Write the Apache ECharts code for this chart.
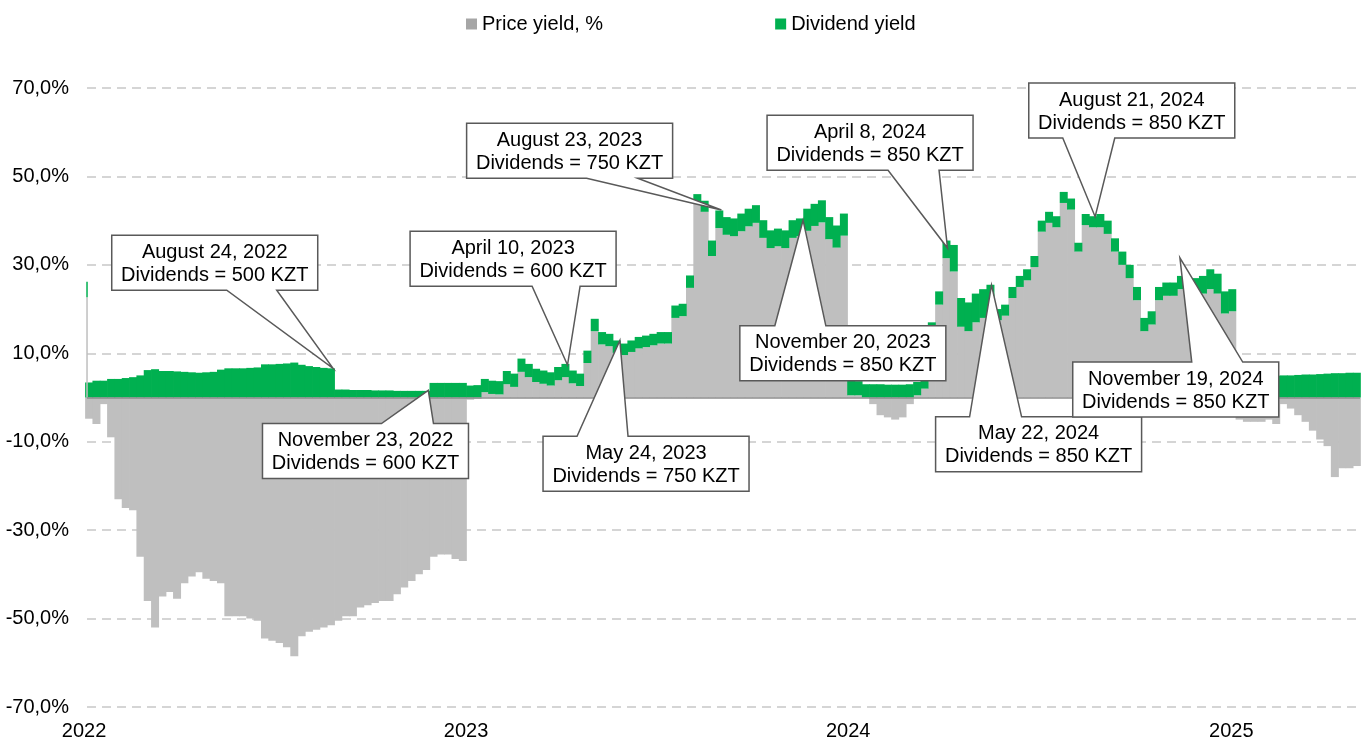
<!DOCTYPE html>
<html>
<head>
<meta charset="utf-8">
<script src="https://cdn.jsdelivr.net/npm/echarts@6.0.0/dist/echarts.min.js"></script>
<style>
  html, body { margin: 0; padding: 0; background: #fff; }
  #main { width: 1366px; height: 739px; }
</style>
</head>
<body>
<div id="main"></div>
<script type="text/javascript">
// weekly readings, first one on Monday 3 Jan 2022, one per week after that
var price2022 = [-4.8, -6.0, -1.5, -9.0, -23.0, -25.0, -25.5, -36.0, -46.0, -52.0,
  -45.0, -44.0, -45.5, -42.0, -40.5, -39.5, -41.0, -41.5, -42.0, -49.5,
  -49.5, -49.5, -50.0, -50.5, -54.5, -55.0, -55.5, -56.5, -58.5, -54.0,
  -53.0, -52.5, -52.0, -51.5, -50.5, -49.5, -49.5, -47.5, -47.0, -46.5,
  -46.0, -46.0, -44.5, -43.0, -41.5, -40.0, -39.0, -36.0, -35.5, -35.5,
  -36.5, -37.0];
var div2022 = [3.4, 3.8, 3.8, 4.2, 4.2, 4.4, 4.6, 5.0, 6.2, 6.4,
  6.0, 6.0, 5.9, 5.8, 5.7, 5.6, 5.7, 5.8, 6.3, 6.6,
  6.6, 6.6, 6.7, 6.8, 7.5, 7.5, 7.6, 7.7, 7.9, 7.4,
  7.1, 6.9, 6.7, 6.6, 1.8, 1.8, 1.7, 1.7, 1.7, 1.6,
  1.6, 1.6, 1.5, 1.5, 1.5, 1.5, 1.5, 3.3, 3.3, 3.3,
  3.3, 3.3];

var price2023 = [-0.5, -0.3, 1.2, 0.8, 0.7, 3.0, 2.4, 5.8, 4.6, 3.5,
  3.1, 2.7, 3.9, 4.6, 3.2, 2.6, 7.8, 15.0, 12.0, 11.6,
  10.1, 9.6, 10.3, 11.1, 11.4, 11.8, 12.2, 12.2, 18.0, 18.4,
  24.8, 44.0, 42.0, 32.0, 38.3, 36.8, 36.5, 37.6, 38.7, 39.5,
  36.1, 33.8, 34.2, 33.8, 36.1, 36.5, 37.7, 38.8, 39.6, 35.8,
  33.9, 36.6];
var div2023 = [2.7, 2.8, 3.0, 3.0, 3.0, 3.0, 3.0, 3.0, 3.0, 3.0,
  3.0, 3.0, 3.0, 3.0, 2.9, 2.8, 2.8, 2.8, 2.8, 2.8,
  2.8, 2.6, 2.6, 2.6, 2.6, 2.6, 2.6, 2.6, 2.8, 2.8,
  2.8, 2.0, 2.5, 3.5, 4.0, 4.0, 4.0, 4.0, 4.0, 4.0,
  4.0, 4.0, 4.0, 4.0, 4.0, 4.0, 5.0, 5.0, 5.0, 5.0,
  5.0, 5.0];

var price2024 = [0.5, 0.5, 0.0, -1.5, -4.0, -4.5, -5.0, -4.5, -1.5, 0.5,
  2.0, 14.0, 21.0, 31.5, 28.5, 16.0, 15.0, 17.0, 18.0, 19.5,
  17.5, 18.5, 22.5, 25.0, 26.5, 29.5, 37.5, 39.5, 38.5, 44.0,
  42.5, 33.0, 39.0, 38.5, 38.5, 37.0, 33.0, 30.0, 27.0, 22.0,
  15.0, 16.5, 22.0, 23.0, 23.0, 24.5, 23.0, 22.5, 23.5, 24.5,
  23.5, 19.0, 19.5];
var div2024 = [3.5, 3.2, 3.0, 3.0, 3.0, 2.9, 2.9, 2.9, 3.0, 3.0,
  3.0, 3.0, 3.0, 4.0, 6.0, 6.5, 6.5, 6.5, 6.5, 6.0,
  2.5, 2.5, 2.5, 2.5, 2.5, 2.5, 2.5, 2.5, 2.5, 2.5,
  2.5, 2.0, 2.5, 2.5, 3.0, 3.0, 3.0, 3.0, 3.0, 3.0,
  3.0, 3.0, 3.0, 3.0, 3.0, 3.0, 3.5, 4.5, 4.0, 4.5,
  4.5, 5.0, 5.0];

var price2025 = [-5.0, -5.5, -5.5, -5.5, -5.0, -6.0, -1.5, -2.5, -4.0, -5.5,
  -7.5, -9.5, -11.0, -18.0, -16.0, -16.0, -15.5];
var div2025 = [4.8, 4.8, 4.8, 4.8, 4.9, 4.9, 5.0, 5.0, 5.1, 5.2,
  5.2, 5.3, 5.4, 5.5, 5.5, 5.6, 5.6];

// the very first observation (thin spike at the left edge)
var firstDay = '2022-01-01';
var firstDayPrice = 22.7;
var firstDayDiv = 3.5;

var yearLabels = ['2022', '2023', '2024', '2025'];

// callouts: box centre and tip in data coordinates
var callouts = [
  { date: 'August 24, 2022', amount: 'Dividends = 500 KZT', box: ['2022-05-03', 30.5], side: 'bottom', base: [115, 165], tip: ['2022-08-24', 6.6] },
  { date: 'November 23, 2022', amount: 'Dividends = 600 KZT', box: ['2022-09-24', -12.1], side: 'top', base: [119, 171], tip: ['2022-11-23', 1.6] },
  { date: 'April 10, 2023', amount: 'Dividends = 600 KZT', box: ['2023-02-12', 31.4], side: 'bottom', base: [122, 170], tip: ['2023-04-05', 7.35] },
  { date: 'August 23, 2023', amount: 'Dividends = 750 KZT', box: ['2023-04-07', 55.8], side: 'bottom', base: [120, 171], tip: ['2023-08-30', 42.4] },
  { date: 'May 24, 2023', amount: 'Dividends = 750 KZT', box: ['2023-06-19', -15.0], side: 'top', base: [34, 85], tip: ['2023-05-25', 12.9] },
  { date: 'November 20, 2023', amount: 'Dividends = 850 KZT', box: ['2023-12-24', 10.0], side: 'top', base: [35, 86], tip: ['2023-11-16', 40.1] },
  { date: 'April 8, 2024', amount: 'Dividends = 850 KZT', box: ['2024-01-19', 57.6], side: 'bottom', base: [121, 172], tip: ['2024-04-02', 33.8] },
  { date: 'May 22, 2024', amount: 'Dividends = 850 KZT', box: ['2024-06-28', -10.6], side: 'top', base: [34, 86], tip: ['2024-05-14', 25.4] },
  { date: 'August 21, 2024', amount: 'Dividends = 850 KZT', box: ['2024-09-25', 64.9], side: 'bottom', base: [34, 86], tip: ['2024-08-21', 40.9] },
  { date: 'November 19, 2024', amount: 'Dividends = 850 KZT', box: ['2024-11-06', 1.8], side: 'top', base: [119, 170], tip: ['2024-11-10', 31.6] }
];

var FONT = '"Liberation Sans", Arial, sans-serif';
var GRAY = '#bfbfbf';
var GREEN = '#00b050';
var DAY_MS = 86400000;

function day(s) {
  var p = s.split('-');
  return new Date(+p[0], +p[1] - 1, +p[2]).getTime();
}

var price = price2022.concat(price2023, price2024, price2025);
var dividend = div2022.concat(div2023, div2024, div2025);
var dates = [];
for (var i = 0; i < price.length; i++) {
  dates.push(new Date(2022, 0, 3 + 7 * i).getTime());
}
var priceData = price.map(function (v, i) { return [dates[i], v]; });
var divData = dividend.map(function (v, i) { return [dates[i], v]; });

// echarts widens a time axis by half a bar on each side, so pull the ends in
// to get a visible range of 1 Jan 2022 .. 1 May 2025
var pad = 3.8 * DAY_MS;

var chart = echarts.init(document.getElementById('main'));
chart.setOption({
  animation: false,
  textStyle: { fontFamily: FONT },
  legend: {
    left: 466,
    top: 14,
    padding: 0,
    itemGap: 172,
    itemWidth: 11,
    itemHeight: 11,
    icon: 'rect',
    textStyle: { fontSize: 20, color: '#000', fontFamily: FONT },
    data: [{ name: 'Price yield, %', itemStyle: { color: '#a6a6a6' } }, 'Dividend yield']
  },
  grid: { left: 87, right: 6, top: 88, bottom: 32, outerBoundsMode: 'none' },
  xAxis: {
    type: 'time',
    min: day('2022-01-01') + pad,
    max: day('2025-05-01') - pad,
    axisLine: { show: false },
    axisTick: { show: false },
    splitLine: { show: false },
    axisLabel: { show: false }
  },
  yAxis: {
    type: 'value',
    min: -70,
    max: 70,
    interval: 20,
    axisLine: { show: false },
    axisTick: { show: false },
    axisLabel: {
      fontSize: 20,
      color: '#000',
      margin: 18,
      formatter: function (v) { return v.toFixed(1).replace('.', ',') + '%'; }
    },
    splitLine: { show: true, lineStyle: { color: '#c8c8c8', width: 1.5, type: [9, 6] } }
  },
  series: [
    {
      name: 'Price yield, %',
      type: 'bar',
      stack: 'y',
      barWidth: 8,
      itemStyle: { color: GRAY },
      data: priceData
    },
    {
      name: 'Dividend yield',
      type: 'bar',
      stack: 'y',
      barWidth: 8,
      itemStyle: { color: GREEN },
      data: divData,
      markLine: {
        silent: true,
        symbol: ['none', 'none'],
        label: { show: false },
        lineStyle: { color: '#8c8c8c', width: 1.5, type: 'solid' },
        data: [{ yAxis: 0 }]
      }
    },
    {
      name: 'first price',
      type: 'line',
      symbol: 'none',
      silent: true,
      lineStyle: { color: GRAY, width: 1.5 },
      data: [[day(firstDay), 0], [day(firstDay), firstDayPrice]]
    },
    {
      name: 'first dividend',
      type: 'line',
      symbol: 'none',
      silent: true,
      lineStyle: { color: GREEN, width: 1.5 },
      data: [[day(firstDay), firstDayPrice], [day(firstDay), firstDayPrice + firstDayDiv]]
    }
  ]
});

var graphics = [];

// year labels under the plot, placed through the x scale
var gridBottom = chart.convertToPixel({ gridIndex: 0 }, [day('2022-01-01'), -70])[1];
yearLabels.forEach(function (y) {
  var p = chart.convertToPixel({ gridIndex: 0 }, [day(y + '-01-01'), -70]);
  graphics.push({
    type: 'text',
    silent: true,
    x: p[0] - 3,
    y: gridBottom + 24,
    style: {
      text: y,
      font: '20px ' + FONT,
      fill: '#000',
      align: 'center',
      verticalAlign: 'middle',
      textAlign: 'center',
      textVerticalAlign: 'middle'
    }
  });
});

// callout boxes with a wedge pointing at the data
var boxW = 206, boxH = 55;
callouts.forEach(function (c) {
  var ctr = chart.convertToPixel({ gridIndex: 0 }, [day(c.box[0]), c.box[1]]);
  var tip = chart.convertToPixel({ gridIndex: 0 }, [day(c.tip[0]), c.tip[1]]);
  var L = ctr[0] - boxW / 2, R = ctr[0] + boxW / 2;
  var T = ctr[1] - boxH / 2, B = ctr[1] + boxH / 2;
  var pts;
  if (c.side === 'bottom') {
    pts = [[L, T], [R, T], [R, B], [L + c.base[1], B], tip, [L + c.base[0], B], [L, B]];
  } else {
    pts = [[L, T], [L + c.base[0], T], tip, [L + c.base[1], T], [R, T], [R, B], [L, B]];
  }
  graphics.push({
    type: 'polygon',
    silent: true,
    z: 100,
    shape: { points: pts },
    style: { fill: '#fff', stroke: '#595959', lineWidth: 1.5 }
  });
  graphics.push({
    type: 'text',
    silent: true,
    z: 101,
    x: ctr[0],
    y: ctr[1] + 1,
    style: {
      text: c.date + '\n' + c.amount,
      font: '20px ' + FONT,
      fill: '#000',
      align: 'center',
      verticalAlign: 'middle',
      textAlign: 'center',
      textVerticalAlign: 'middle',
      lineHeight: 23
    }
  });
});
chart.setOption({ graphic: graphics });
</script>
</body>
</html>
